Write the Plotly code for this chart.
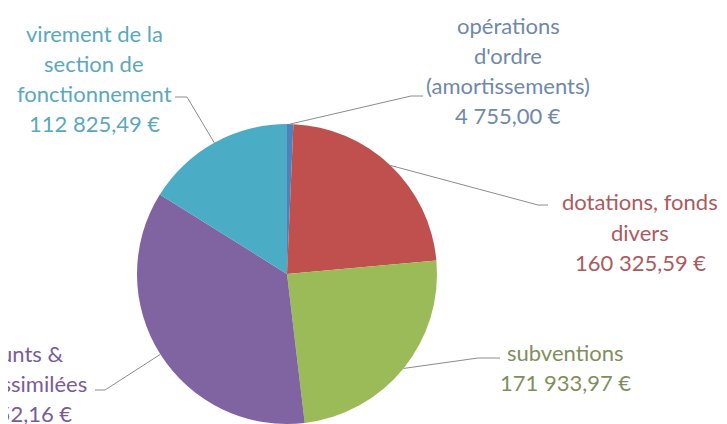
import math
import plotly.graph_objects as go

# slices, clockwise from 12 o'clock
labels = [
    "opérations d'ordre (amortissements)",
    "dotations, fonds divers",
    "subventions",
    "emprunts & dettes assimilées",
    "virement de la section de fonctionnement",
]
label_lines = [
    ["opérations", "d'ordre", "(amortissements)"],
    ["dotations, fonds", "divers"],
    ["subventions"],
    ["emprunts &", "dettes assimilées"],
    ["virement de la", "section de", "fonctionnement"],
]
values = [4755.00, 160325.59, 171933.97, 250652.16, 112825.49]
colors = ["#4F81BD", "#C0504D", "#9BBB59", "#8064A2", "#4BACC6"]
text_colors = ["#7088AA", "#AC5A5E", "#7F8F5C", "#7A5C9C", "#5AA8BE"]

W, H = 727, 424
OFF = 8                      # page body margin
CX, CY, R = 287, 274, 150    # pie centre / radius, page px

# label block centre x, first line y, leader elbow and end (page px)
label_pos = [(508, 25), (640, 202), (565, 352), (6, 353), (94, 33)]
leader_elbow = [(411, 96), (538, 205), (478, 358), (105, 390), (187, 97)]
leader_end = [(423, 96), (548, 205), (500, 358), (95, 390), (175, 97)]
LINE_GAP = 30


def euro(v):
    s = f"{v:,.2f}".replace(",", " ").replace(".", ",")
    return s + " €"


def px(x, y):
    return (x - OFF) / W, 1 - (y - OFF) / H


dx0, dy1 = px(CX - R, CY - R)
dx1, dy0 = px(CX + R, CY + R)
fig = go.Figure(go.Pie(
    labels=labels, values=values, sort=False,
    direction="clockwise", rotation=0,
    marker=dict(colors=colors, line=dict(width=0)),
    textinfo="none", hoverinfo="skip", showlegend=False,
    domain=dict(x=[dx0, dx1], y=[dy0, dy1]),
))

total = sum(values)
cum = 0.0
shapes, annotations = [], []
for i, v in enumerate(values):
    mid = (cum + v / 2) / total * 2 * math.pi
    cum += v
    sx, sy = CX + R * math.sin(mid), CY - R * math.cos(mid)
    (ex, ey), (fx, fy) = leader_elbow[i], leader_end[i]
    p0, p1, p2 = px(sx, sy), px(ex, ey), px(fx, fy)
    shapes.append(dict(
        type="path", xref="paper", yref="paper",
        path=f"M {p0[0]},{p0[1]} L {p1[0]},{p1[1]} L {p2[0]},{p2[1]}",
        line=dict(color="#8C8C8C", width=1)))
    lines = label_lines[i] + [euro(v)]
    lx, ly = label_pos[i]
    for j, txt in enumerate(lines):
        ax, ay = px(lx, ly + j * LINE_GAP)
        annotations.append(dict(
            x=ax, y=ay, xref="paper", yref="paper", text=txt,
            showarrow=False, xanchor="center", yanchor="middle",
            font=dict(size=22, color=text_colors[i])))

fig.update_layout(
    width=W, height=H,
    margin=dict(l=0, r=0, t=0, b=0),
    paper_bgcolor="white", plot_bgcolor="white",
    font_family="Lato, sans-serif",
    shapes=shapes, annotations=annotations,
)

fig.write_html("out.html")
